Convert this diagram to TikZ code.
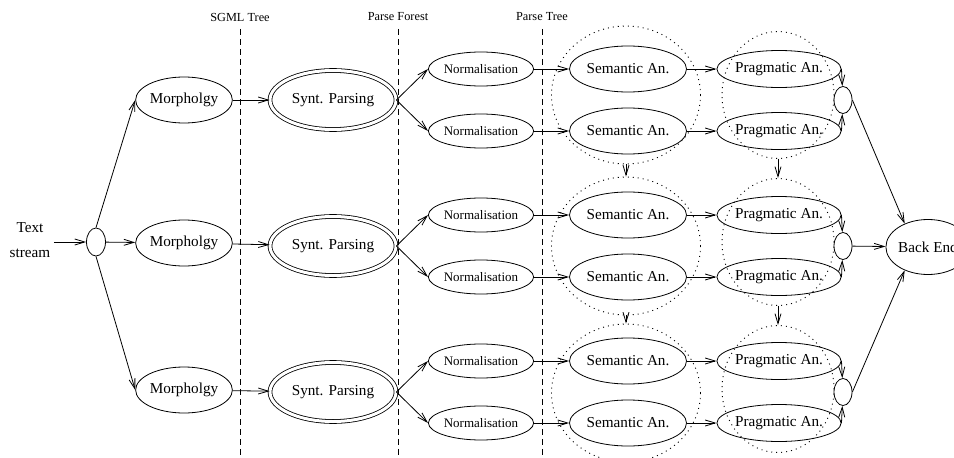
\documentclass[tikz,border=0pt]{standalone}
\usepackage{fontspec}
\setmainfont{Liberation Serif}
\usetikzlibrary{shapes.geometric,arrows.meta}
\begin{document}
\begin{tikzpicture}[x=1pt,y=-1pt,line width=0.8pt,
  ell/.style={ellipse,draw,inner sep=0pt},
  bigfont/.style={font=\fontsize{15.2}{18}\selectfont},
  morph/.style={ell,bigfont,minimum width=84pt,minimum height=46pt},
  synt/.style={ell,bigfont,double,double distance=3pt,minimum width=126pt,minimum height=59pt},
  norm/.style={ell,font=\fontsize{13}{15}\selectfont,minimum width=95pt,minimum height=34pt},
  sem/.style={ell,bigfont,minimum width=102pt,minimum height=46pt},
  prag/.style={ell,bigfont,minimum width=93pt,minimum height=37pt},
  small/.style={ell,minimum width=18pt,minimum height=27pt},
  dotc/.style={ellipse,draw,inner sep=0pt,line width=0.9pt,dash pattern=on 1pt off 4pt},
  lab/.style={font=\fontsize{12.3}{14}\selectfont},
  sep/.style={dash pattern=on 6pt off 4pt},
  arr/.style={-{Straight Barb[length=10pt,width=6pt]}}
]
\useasboundingbox (0,0) rectangle (954,458);

% separators
\node[lab] (l1) at (240,17) {SGML Tree};
\node[lab] (l2) at (398,17) {Parse Forest};
\node[lab] (l3) at (542,17) {Parse Tree};
\coordinate (e1) at (240,458);
\coordinate (e2) at (398,458);
\coordinate (e3) at (542,458);
\draw[sep] ([yshift=-4pt]l1.south) -- (e1);
\draw[sep] ([yshift=-4pt]l2.south) -- (e2);
\draw[sep] ([yshift=-4pt]l3.south) -- (e3);

% input
\node[align=center,font=\fontsize{15.2}{25}\selectfont] (txt) at (30,240) {Text\\stream};
\node[small,minimum width=19pt,minimum height=28pt] (split) at (96,242) {};
\draw[arr] (txt.east |- split.west) -- (split.west);

\foreach \i/\g/\mg/\sg/\pg in {1/100/100/95/95, 2/246/243/246/242, 3/392/390/393/389} {
  \node[morph] (m\i) at (184,\mg) {Morpholgy};
  \node[synt] (s\i) at (333,\g) {Synt. Parsing};
  \node[norm] (na\i) at (481,\g-31) {Normalisation};
  \node[norm] (nb\i) at (481,\g+31) {Normalisation};
  \node[dotc,minimum width=149pt,minimum height=138pt] (sc\i) at (626,\sg) {};
  \node[sem] (sa\i) at (628,\g-31) {Semantic An.};
  \node[sem] (sb\i) at (628,\g+31) {Semantic An.};
  \node[dotc,minimum width=112pt,minimum height=127pt] (pc\i) at (778,\pg) {};
  \node[prag] (pa\i) at (779,\g-31) {Pragmatic An.};
  \node[prag] (pb\i) at (779,\g+31) {Pragmatic An.};
  \node[small] (mg\i) at (843,\g) {};
  \draw[arr] (m\i) -- (s\i);
  \draw[arr] (s\i.east) -- (na\i.west);
  \draw[arr] (s\i.east) -- (nb\i.west);
  \draw[arr] (na\i) -- (sa\i);
  \draw[arr] (nb\i) -- (sb\i);
  \draw[arr] (sa\i) -- (pa\i);
  \draw[arr] (sb\i) -- (pb\i);
  \draw[arr] (pa\i.east) -- (mg\i);
  \draw[arr] (pb\i.east) -- (mg\i);
}

\node[ell,bigfont,minimum width=78pt,minimum height=55pt] (be) at (928,247) {Back End};

\draw[arr] (split.north) -- (m1.west);
\draw[arr] (split) -- (m2);
\draw[arr] (split.south) -- (m3.west);

\draw[arr] (sc1.south) -- (sc2.north);
\draw[arr] (sc2.south) -- (sc3.north);
\draw[arr] (pc1.south) -- (pc2.north);
\draw[arr] (pc2.south) -- (pc3.north);

\draw[arr] (mg1.east) -- (be.135);
\draw[arr] (mg2) -- (be);
\draw[arr] (mg3.east) -- (be.225);
\end{tikzpicture}
\end{document}
